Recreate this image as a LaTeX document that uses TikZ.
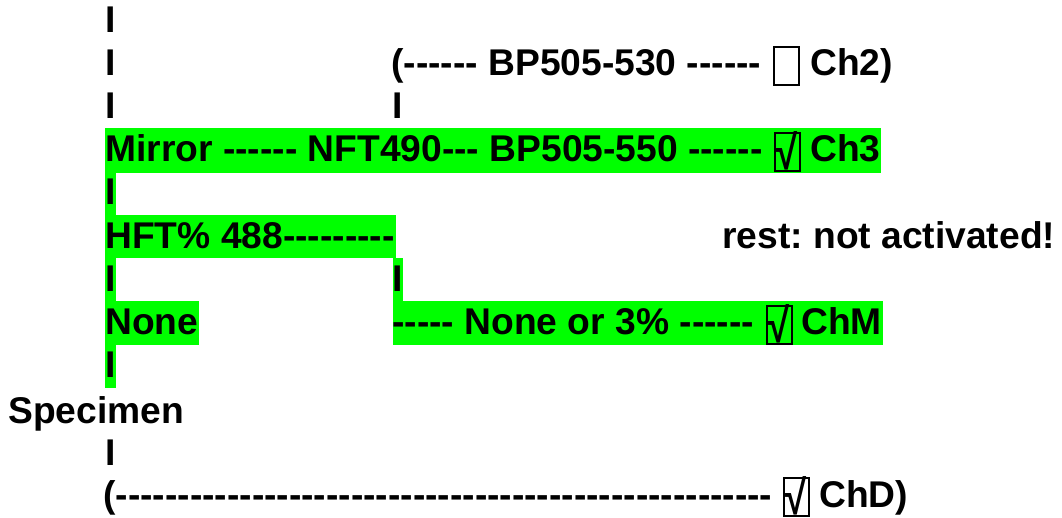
\documentclass[tikz,border=0pt]{standalone}
\usepackage{fontspec}
\setmainfont{Liberation Sans}[Ligatures=TeXOff]
\definecolor{hlgreen}{RGB}{0,255,0}
\frenchspacing
\newcommand{\tick}{\smash{\raisebox{-8.6pt}{\scalebox{0.8}[1]{\fontsize{24}{24}\selectfont √}}}}

\begin{document}
\begin{tikzpicture}[x=0.5pt, y=-0.5pt,
  txt/.style={anchor=base west, inner sep=0pt, font=\bfseries\fontsize{18.6}{22}\selectfont},
  chkbox/.style={draw, rectangle, line width=1pt, inner sep=0pt, minimum width=12.5pt, minimum height=19pt, font=\bfseries}]

\useasboundingbox (0,0) rectangle (1062,518);

% ========== Green highlights ==========
\fill[hlgreen] (105,128) rectangle (881,173);   % Ch3 path
\fill[hlgreen] (105,173) rectangle (116,215);
\fill[hlgreen] (105,215) rectangle (396,258);   % HFT
\fill[hlgreen] (105,258) rectangle (116,301);
\fill[hlgreen] (393,258) rectangle (403,301);
\fill[hlgreen] (105,301) rectangle (199,345);   % None
\fill[hlgreen] (393,301) rectangle (883,345);   % ChM path
\fill[hlgreen] (105,345) rectangle (116,388);

% ========== Upper beam path ==========
\node[txt] (bar1) at (105,33) {I};
\node[txt] (bar2) at (105,76) {I};
\node[txt] (chtwopath) at (391,76) {(------ BP505-530 ------};
\node[chkbox] (chtwobox) at (786.5,66.5) {};
\node[txt] (chtwolbl) at (810,76) {Ch2)};
\node[txt] (bar3) at (105,119) {I};
\node[txt] (bar3b) at (392,119) {I};

% Mirror line to Ch3
\node[txt] (mirror) at (105,162) {Mirror ------ NFT490--- BP505-550 ------};
\node[chkbox] (chthreebox) at (787,152) {\tick};
\node[txt] (chthreelbl) at (810,162) {Ch3};
\node[txt] (bar5) at (105,205) {I};

% ========== Main beam splitter ==========
\node[txt] (hft) at (105,249) {HFT\% 488---------};
\node[txt] (rest) at (722,249) {rest: not activated!};
\node[txt] (bar7) at (105,292) {I};
\node[txt] (bar7b) at (392,292) {I};

% None / ChM line
\node[txt] (none) at (105,335) {None};
\node[txt] (chmpath) at (392,335) {----- None or 3\% ------};
\node[chkbox] (chmbox) at (779,325) {\tick};
\node[txt] (chmlbl) at (801,335) {ChM};
\node[txt] (bar9) at (105,378) {I};

% ========== Specimen and transmitted path ==========
\node[txt] (specimen) at (8,424) {Specimen};
\node[txt] (bar11) at (105,466) {I};
\node[txt] (chdpath) at (103,508) {(-----------------------------------------------------};
\node[chkbox] (chdbox) at (796.5,497.5) {\tick};
\node[txt] (chdlbl) at (819,508) {ChD)};

\end{tikzpicture}
\end{document}
